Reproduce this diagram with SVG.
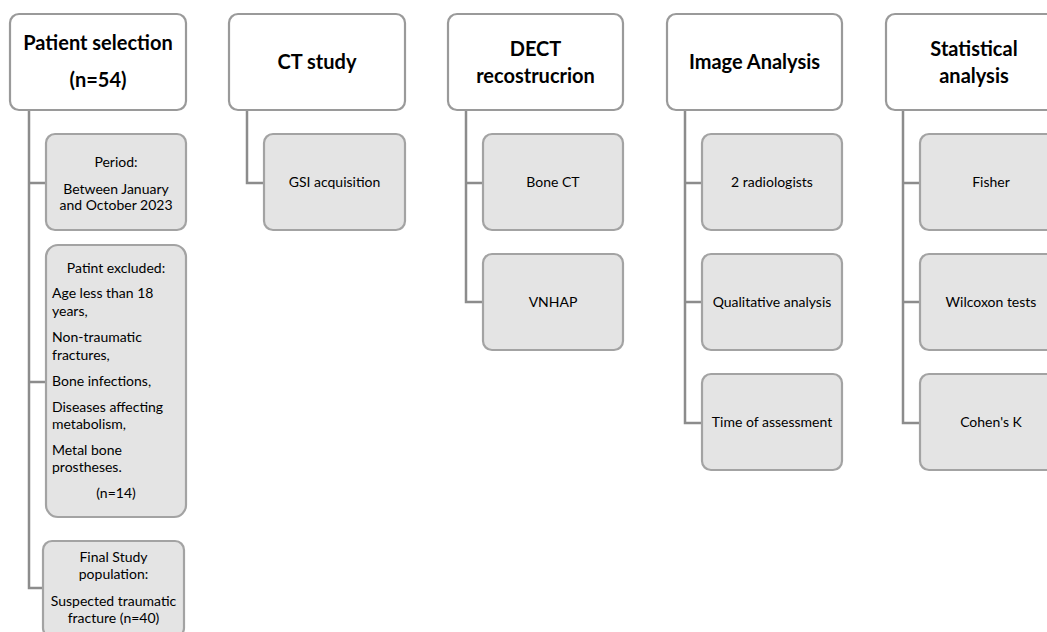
<svg xmlns="http://www.w3.org/2000/svg" width="1047" height="632" viewBox="0 0 1047 632">
<style>
.hdr{fill:#ffffff;stroke:#9a9a9a;stroke-width:2.2}
.chd{fill:#e4e4e4;stroke:#a3a3a3;stroke-width:2.2}
.conn{fill:none;stroke:#8c8c8c;stroke-width:2.5}
.ht{font-family:Lato,"Liberation Sans",sans-serif;font-weight:bold;font-size:20px;fill:#000;text-anchor:middle}
.ct{font-family:Lato,"Liberation Sans",sans-serif;font-size:14px;fill:#000;text-anchor:middle}
.cl{font-family:Lato,"Liberation Sans",sans-serif;font-size:14px;fill:#000}
</style>
<rect width="1047" height="632" fill="#ffffff"/>
<g id="connectors">
<path class="conn" d="M29 110 V588 H43 M29 183 H46 M29 382 H46"/>
<path class="conn" d="M247 110 V183 H264"/>
<path class="conn" d="M466 110 V302 H483 M466 183 H483"/>
<path class="conn" d="M685 110 V423 H702 M685 183 H702 M685 302 H702"/>
<path class="conn" d="M903 110 V423 H920 M903 183 H920 M903 302 H920"/>
</g>
<g id="patient-selection">
<rect class="hdr" x="10" y="14" width="176" height="96" rx="9"/>
<text class="ht" x="98" y="50">Patient selection</text>
<text class="ht" x="98" y="87">(n=54)</text>
</g>
<g id="period">
<rect class="chd" x="46" y="134" width="140" height="96" rx="9"/>
<text class="ct" x="116" y="167">Period:</text>
<text class="ct" x="116" y="194">Between January</text>
<text class="ct" x="116" y="210">and October 2023</text>
</g>
<g id="excluded">
<rect class="chd" x="46" y="245" width="140" height="272" rx="12"/>
<text class="ct" x="116" y="273">Patint excluded:</text>
<text class="cl" x="52" y="298">Age less than 18</text>
<text class="cl" x="52" y="316">years,</text>
<text class="cl" x="52" y="342">Non-traumatic</text>
<text class="cl" x="52" y="360">fractures,</text>
<text class="cl" x="52" y="386">Bone infections,</text>
<text class="cl" x="52" y="412">Diseases affecting</text>
<text class="cl" x="52" y="429">metabolism,</text>
<text class="cl" x="52" y="455">Metal bone</text>
<text class="cl" x="52" y="472">prostheses.</text>
<text class="ct" x="116" y="498">(n=14)</text>
</g>
<g id="final-population">
<rect class="chd" x="43" y="541" width="141" height="96" rx="9"/>
<text class="ct" x="113.5" y="562">Final Study</text>
<text class="ct" x="113.5" y="579">population:</text>
<text class="ct" x="113.5" y="606">Suspected traumatic</text>
<text class="ct" x="113.5" y="623">fracture (n=40)</text>
</g>
<g id="ct-study">
<rect class="hdr" x="229" y="14" width="176" height="96" rx="9"/>
<text class="ht" x="317" y="69">CT study</text>
</g>
<g id="gsi">
<rect class="chd" x="264" y="134" width="141" height="96" rx="9"/>
<text class="ct" x="334.5" y="187">GSI acquisition</text>
</g>
<g id="dect">
<rect class="hdr" x="448" y="14" width="175" height="96" rx="9"/>
<text class="ht" x="535.5" y="56">DECT</text>
<text class="ht" x="535.5" y="83">recostrucrion</text>
</g>
<g id="bone-ct">
<rect class="chd" x="483" y="134" width="140" height="96" rx="9"/>
<text class="ct" x="553" y="187">Bone CT</text>
</g>
<g id="vnhap">
<rect class="chd" x="483" y="254" width="140" height="96" rx="9"/>
<text class="ct" x="553" y="307">VNHAP</text>
</g>
<g id="image-analysis">
<rect class="hdr" x="667" y="14" width="175" height="96" rx="9"/>
<text class="ht" x="754.5" y="69">Image Analysis</text>
</g>
<g id="radiologists">
<rect class="chd" x="702" y="134" width="140" height="96" rx="9"/>
<text class="ct" x="772" y="187">2 radiologists</text>
</g>
<g id="qualitative">
<rect class="chd" x="702" y="254" width="140" height="96" rx="9"/>
<text class="ct" x="772" y="307">Qualitative analysis</text>
</g>
<g id="time-assessment">
<rect class="chd" x="702" y="374" width="140" height="96" rx="9"/>
<text class="ct" x="772" y="427">Time of assessment</text>
</g>
<g id="statistical-analysis">
<rect class="hdr" x="886" y="14" width="176" height="96" rx="9"/>
<text class="ht" x="974" y="56">Statistical</text>
<text class="ht" x="974" y="83">analysis</text>
</g>
<g id="fisher">
<rect class="chd" x="920" y="134" width="142" height="96" rx="9"/>
<text class="ct" x="991" y="187">Fisher</text>
</g>
<g id="wilcoxon">
<rect class="chd" x="920" y="254" width="142" height="96" rx="9"/>
<text class="ct" x="991" y="307">Wilcoxon tests</text>
</g>
<g id="cohen">
<rect class="chd" x="920" y="374" width="142" height="96" rx="9"/>
<text class="ct" x="991" y="427">Cohen's K</text>
</g>
</svg>
